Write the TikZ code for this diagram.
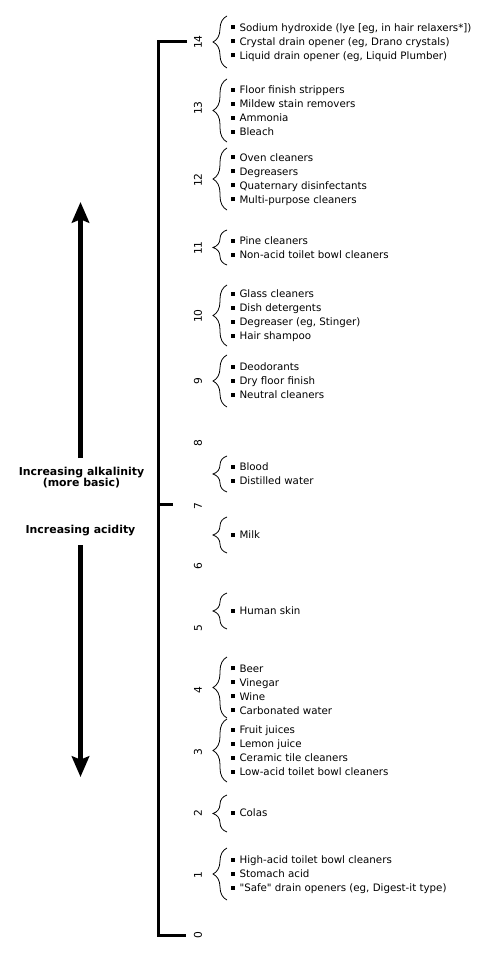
\documentclass[tikz,border=0pt]{standalone}
\usepackage{fontspec}
\setmainfont[Ligatures=TeXOff]{DejaVu Sans}
\usetikzlibrary{decorations.pathreplacing,arrows.meta}

\tikzset{
  accolade/.style={decorate,decoration={brace,amplitude=10.5pt},line width=0.6pt},
  liste/.style={anchor=west,inner sep=0pt,align=left,font=\fontsize{7.7}{10.5}\selectfont},
  graduation/.style={rotate=90,inner sep=0pt,font=\fontsize{8}{9}\selectfont},
  fleche/.style={line width=3.75pt,-{Stealth[length=15.5pt,width=13pt,inset=2.5pt]}},
  titre/.style={align=center,inner sep=0pt,font=\fontsize{8.2}{8.8}\selectfont\bfseries}
}
\newcommand{\puce}{\rule[1.4pt]{3pt}{3pt}\hspace{3.2pt}}

\begin{document}
\begin{tikzpicture}[x=0.75pt,y=-0.75pt]
  \useasboundingbox (0,0) rectangle (484,956);
  %\draw[help lines,step=20] (0,0) grid (484,956);

  %ECHELLE
  \coordinate (haut) at (158.5,42);
  \coordinate (neutre) at (158.5,504);
  \coordinate (bas) at (158.5,935);
  \draw[line width=2.25pt] (187,42) -- (haut) -- (bas) -- (186,935);
  \draw[line width=2.25pt] (neutre) -- (173,504);

  %GRADUATIONS
  \node[graduation] (p14) at (198,42) {14};
  \node[graduation] (p13) at (198,108) {13};
  \node[graduation] (p12) at (198,180) {12};
  \node[graduation] (p11) at (198,248) {11};
  \node[graduation] (p10) at (198,316) {10};
  \node[graduation] (p9) at (198,381) {9};
  \node[graduation] (p8) at (198,443) {8};
  \node[graduation] (p7) at (198,506) {7};
  \node[graduation] (p6) at (198,566) {6};
  \node[graduation] (p5) at (198,628) {5};
  \node[graduation] (p4) at (198,690) {4};
  \node[graduation] (p3) at (198,752) {3};
  \node[graduation] (p2) at (198,813) {2};
  \node[graduation] (p1) at (198,875) {1};
  \node[graduation] (p0) at (198,935) {0};

  %PRODUITS BASIQUES
  \node[liste] (l14) at (231,42.5) {\puce Sodium hydroxide (lye [eg, in hair relaxers*])\\
    \puce Crystal drain opener (eg, Drano crystals)\\
    \puce Liquid drain opener (eg, Liquid Plumber)};
  \draw[accolade] (227,68) -- (227,16);
  \node[liste] (l13) at (231,111) {\puce Floor finish strippers\\
    \puce Mildew stain removers\\ \puce Ammonia\\ \puce Bleach};
  \draw[accolade] (227,142) -- (227,79);
  \node[liste] (l12) at (231,179.5) {\puce Oven cleaners\\ \puce Degreasers\\
    \puce Quaternary disinfectants\\ \puce Multi-purpose cleaners};
  \draw[accolade] (227,210) -- (227,148);
  \node[liste] (l11) at (231,248) {\puce Pine cleaners\\
    \puce Non-acid toilet bowl cleaners};
  \draw[accolade] (227,265) -- (227,230);
  \node[liste] (l10) at (231,316) {\puce Glass cleaners\\ \puce Dish detergents\\
    \puce Degreaser (eg, Stinger)\\ \puce Hair shampoo};
  \draw[accolade] (227,346) -- (227,285);
  \node[liste] (l9) at (231,381) {\puce Deodorants\\ \puce Dry floor finish\\
    \puce Neutral cleaners};
  \draw[accolade] (227,407) -- (227,355);
  \node[liste] (l7) at (231,474) {\puce Blood\\ \puce Distilled water};
  \draw[accolade] (227,492) -- (227,456);

  %PRODUITS ACIDES
  \node[liste] (l6) at (231,535) {\puce Milk};
  \draw[accolade] (227,553) -- (227,517);
  \node[liste] (l5) at (231,611) {\puce Human skin};
  \draw[accolade] (227,629) -- (227,593);
  \node[liste] (l4) at (231,689.5) {\puce Beer\\ \puce Vinegar\\ \puce Wine\\
    \puce Carbonated water};
  \draw[accolade] (227,718) -- (227,657);
  \node[liste] (l3) at (231,751) {\puce Fruit juices\\ \puce Lemon juice\\
    \puce Ceramic tile cleaners\\ \puce Low-acid toilet bowl cleaners};
  \draw[accolade] (227,782) -- (227,719);
  \node[liste] (l2) at (231,813) {\puce Colas};
  \draw[accolade] (227,832) -- (227,795);
  \node[liste] (l1) at (231,875) {\puce High-acid toilet bowl cleaners\\
    \puce Stomach acid\\ \puce "Safe" drain openers (eg, Digest-it type)};
  \draw[accolade] (227,900) -- (227,848);

  %FLECHES
  \node[titre] (alcalin) at (81.5,477.5) {Increasing alkalinity\\(more basic)};
  \node[titre] (acide) at (80.5,531) {Increasing acidity};
  \coordinate (A1) at (80.5,458);
  \coordinate (A2) at (80.5,202);
  \coordinate (B1) at (80.5,545);
  \coordinate (B2) at (80.5,777);
  \draw[fleche] (A1) -- (A2);
  \draw[fleche] (B1) -- (B2);
\end{tikzpicture}
\end{document}
